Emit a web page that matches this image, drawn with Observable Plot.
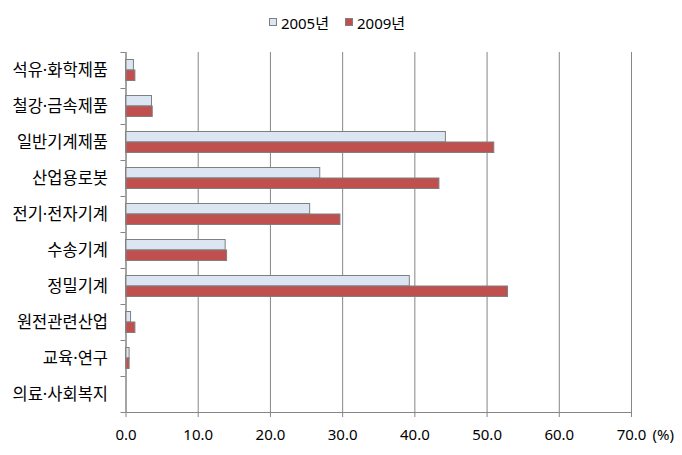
<!DOCTYPE html>
<html>
<head>
<meta charset="utf-8">
<script src="https://cdn.jsdelivr.net/npm/d3@7"></script>
<script src="https://cdn.jsdelivr.net/npm/@observablehq/plot@0.6"></script>
<style>
  body { margin: 0; background: #fff; font-family: "Noto Sans", "Noto Sans CJK KR", sans-serif; }
  #legend { height: 40px; display: flex; justify-content: center; align-items: center; gap: 16px; font-size: 15px; color: #000; padding-right: 8px; box-sizing: border-box; padding-top: 4px; }
  #legend .item { display: flex; align-items: center; gap: 4px; }
  #legend .sw { width: 8px; height: 8px; box-sizing: border-box; border: 1px solid #7f7f7f; }
</style>
</head>
<body>
<div id="legend"></div>
<div id="chart"></div>
<script>
const categories = ["석유·화학제품", "철강·금속제품", "일반기계제품", "산업용로봇", "전기·전자기계", "수송기계", "정밀기계", "원전관련산업", "교육·연구", "의료·사회복지"];
const years = ["2005년", "2009년"];
const values2005 = [1.1, 3.6, 44.3, 26.9, 25.5, 13.8, 39.3, 0.7, 0.5, 0];
const values2009 = [1.3, 3.7, 51.0, 43.4, 29.7, 14.0, 52.9, 1.3, 0.5, 0];
const xTicks = [0, 10, 20, 30, 40, 50, 60, 70];
const unitLabel = "(%)";
const colors = ["#dce6f2", "#c0504d"];

const data = [];
categories.forEach((c, i) => {
  data.push({category: c, year: years[0], value: values2005[i]});
  data.push({category: c, year: years[1], value: values2009[i]});
});

// legend
const legend = document.getElementById("legend");
years.forEach((y, i) => {
  const item = document.createElement("div");
  item.className = "item";
  const sw = document.createElement("span");
  sw.className = "sw";
  sw.style.background = colors[i];
  const t = document.createElement("span");
  t.textContent = y;
  item.append(sw, t);
  legend.append(item);
});

const band = 36;
const barH = 10.5;
const pad = (band - 2 * barH) / 2;
const font = "'Noto Sans', 'Noto Sans CJK KR', sans-serif";

const chart = Plot.plot({
  width: 682,
  height: 415,
  marginTop: 12,
  marginBottom: 43,
  marginLeft: 125.5,
  marginRight: 51,
  style: {fontFamily: font, fontSize: "15px", color: "#000", background: "#fff"},
  x: {domain: [0, 70]},
  y: {domain: categories, padding: 0},
  color: {domain: years, range: colors},
  marks: [
    Plot.gridX(xTicks, {stroke: "#868686", strokeOpacity: 1}),
    Plot.barX(data.filter(d => d.year === years[0]), {
      x: "value", y: "category", fill: "year",
      stroke: "#7f7f7f", strokeWidth: 1,
      insetTop: pad, insetBottom: band - pad - barH
    }),
    Plot.barX(data.filter(d => d.year === years[1]), {
      x: "value", y: "category", fill: "year",
      stroke: "#7f7f7f", strokeWidth: 1,
      insetTop: pad + barH, insetBottom: pad
    }),
    Plot.ruleX([0], {stroke: "#868686"}),
    Plot.frame({anchor: "bottom", stroke: "#868686"}),
    Plot.axisX({ticks: xTicks, tickSize: 5, tickPadding: 12, stroke: "#868686",
      tickFormat: d => d.toFixed(1), label: null, fontSize: 15}),
    Plot.text([unitLabel], {x: () => xTicks[xTicks.length - 1], frameAnchor: "bottom",
      dx: 21, dy: 27, textAnchor: "start", fontSize: 15}),
    Plot.axisY({tickSize: 0, tickPadding: 18, label: null, fontSize: 16.5}),
    Plot.axisY({tickSize: 5, tickFormat: () => "", label: null, dy: -band / 2, stroke: "#868686"}),
    Plot.axisY({ticks: [categories[categories.length - 1]], tickSize: 5, tickFormat: () => "", label: null, dy: band / 2, stroke: "#868686"})
  ]
});
document.getElementById("chart").append(chart);
</script>
</body>
</html>
